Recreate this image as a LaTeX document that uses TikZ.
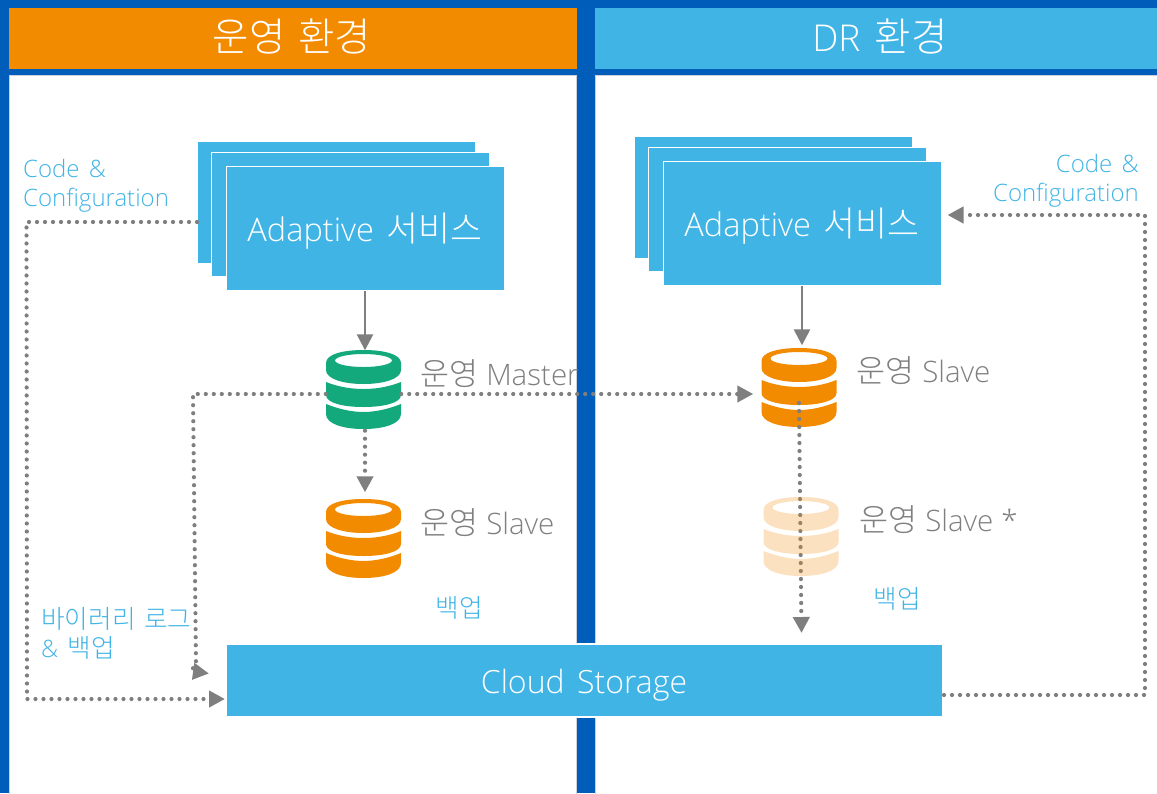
\documentclass[tikz,border=0pt]{standalone}
\usepackage{fontspec}
\setmainfont{Open Sans Light}[WordSpace=1.5]
\newfontfamily\krfont{Noto Sans CJK KR Light}[Scale=1.07,WordSpace=1.5]
\newcommand{\kr}[1]{{\krfont #1}}
\usetikzlibrary{arrows.meta}
\definecolor{bgblue}{HTML}{005DB9}
\definecolor{skyblue}{HTML}{41B4E6}
\definecolor{headorange}{HTML}{F38B00}
\definecolor{dbgreen}{HTML}{13A97D}
\definecolor{linegrey}{HTML}{7F7F7F}
\definecolor{edgegrey}{HTML}{CDD0D8}
\tikzset{
  panel/.style={fill=white,draw=edgegrey,line width=1pt,inner sep=0pt,anchor=north west},
  header/.style={fill=#1,text=white,inner sep=0pt,minimum height=61pt,font=\fontsize{35}{40}\selectfont},
  svcbox/.style={fill=skyblue,draw=white,line width=1pt,inner sep=0pt,minimum width=278pt,minimum height=124pt,text=white,font=\fontsize{32.5}{38}\selectfont},
  dbnode/.style={inner sep=0pt,minimum width=75pt,minimum height=79pt},
  dblabel/.style={text=linegrey,inner sep=0pt,anchor=west,font=\fontsize{29.5}{36}\selectfont},
  bluelabel/.style={text=skyblue,inner sep=0pt,font=\fontsize{24}{29}\selectfont},
  solidarrow/.style={draw=linegrey,line width=2.6pt,-{Triangle[length=16pt,width=16pt]}},
  dotarrow/.style={draw=linegrey,line width=4.2pt,line cap=round,dash pattern=on 0pt off 8pt,-{Triangle[length=16pt,width=16pt]}},
  pics/dbstack/.style={code={
    \fill[#1,even odd rule] (-37.5,-27) .. controls (-37.5,-36) and (-20,-40) .. (0,-40)
      .. controls (20,-40) and (37.5,-36) .. (37.5,-27) -- (37.5,-20)
      .. controls (37.5,-11) and (20,-6) .. (0,-6)
      .. controls (-20,-6) and (-37.5,-11) .. (-37.5,-20) -- cycle
      (0,-29.5) ellipse [x radius=28.5,y radius=6.5];
    \fill[#1] (-37.5,-8) .. controls (-25,-3) and (-12,-1) .. (0,-1)
      .. controls (12,-1) and (25,-3) .. (37.5,-8) -- (37.5,5)
      .. controls (37.5,13) and (20,17) .. (0,17)
      .. controls (-20,17) and (-37.5,13) .. (-37.5,5) -- cycle;
    \fill[#1] (-37.5,14) .. controls (-25,19) and (-12,22) .. (0,22)
      .. controls (12,22) and (25,19) .. (37.5,14) -- (37.5,24)
      .. controls (37.5,34) and (20,39) .. (0,39)
      .. controls (-20,39) and (-37.5,34) .. (-37.5,24) -- cycle;
  }}
}
\begin{document}
\begin{tikzpicture}[x=1pt,y=-1pt]
  \useasboundingbox (0,0) rectangle (1157,793);
  \fill[bgblue] (0,0) rectangle (1157,793);

  \node[panel,minimum width=567.5pt,minimum height=730pt] (leftpanel) at (8.5,75) {};
  \node[panel,minimum width=570pt,minimum height=730pt] (rightpanel) at (595,75) {};
  \node[header=headorange,minimum width=568pt] (lefthead) at (293,38.5) {};
  \node[header=skyblue,minimum width=562pt] (righthead) at (876,38.5) {};
  \node[text=white,inner sep=0pt,font=\fontsize{37}{40}\selectfont] (lefttitle) at (292,37) {\kr{운영 환경}};
  \node[text=white,inner sep=0pt,font=\fontsize{37}{40}\selectfont] (righttitle) at (880,37) {DR \kr{환경}};

  \node[svcbox,minimum height=122pt] (backL) at (336.5,202) {};
  \node[svcbox] (midL) at (350.5,214.5) {};
  \node[svcbox] (frontL) at (365,228) {};
  \node[svcbox,draw=none,fill=none] (frontLtext) at (365,231) {Adaptive \kr{서비스}};
  \node[svcbox,minimum height=122pt] (backR) at (773.5,197) {};
  \node[svcbox] (midR) at (787.5,209.5) {};
  \node[svcbox] (frontR) at (802,223) {};
  \node[svcbox,draw=none,fill=none] (frontRtext) at (802,226) {Adaptive \kr{서비스}};

  \node[fill=skyblue,draw=white,line width=2pt,inner sep=0pt,minimum width=717pt,minimum height=73pt] (storage) at (584.5,680.5) {};
  \node[text=white,inner sep=0pt,font=\fontsize{32}{36}\selectfont] (storagetext) at (584,685) {Cloud Storage};

  \node[dbnode] (master) at (363.5,390) {};
  \node[dbnode] (slaveL) at (363.5,539) {};
  \node[dbnode] (slaveR) at (799,388) {};
  \node[dbnode] (slaveX) at (801,537) {};
  \pic at (master) {dbstack=dbgreen};
  \pic at (slaveL) {dbstack=headorange};
  \pic at (slaveR) {dbstack=headorange};

  \node[dblabel] (masterlabel) at (420,374) {\kr{운영}\hspace{8pt}Master};
  \node[dblabel] (slaveLlabel) at (420,523) {\kr{운영}\hspace{8pt}Slave};
  \node[dblabel] (slaveRlabel) at (856,371) {\kr{운영}\hspace{8pt}Slave};
  \node[dblabel] (slaveXlabel) at (859,520) {\kr{운영}\hspace{8pt}Slave\hspace{8pt}*};

  \node[bluelabel,align=left,anchor=north west] (codeL) at (23,159) {Code \&\\Configuration};
  \node[bluelabel,align=right,anchor=north east] (codeR) at (1139,154) {Code \&\\Configuration};
  \node[bluelabel,align=left,anchor=north west] (binlog) at (41,607) {\kr{바이러리 로그}\\\& \kr{백업}};
  \node[bluelabel] (backupL) at (459.5,608) {\kr{백업}};
  \node[bluelabel] (backupR) at (897.5,599) {\kr{백업}};

  \coordinate (logtip) at (209,673.5);
  \coordinate (imagetip) at (801.5,633);

  \draw[solidarrow] (frontL.south) -- (master.north -| frontL.south);
  \draw[solidarrow] (frontR.south) -- ([yshift=3pt]slaveR.north -| frontR.south);
  \draw[dotarrow] ([yshift=-4pt]master.east) -- ([xshift=-8pt,yshift=-6pt]slaveR.west);
  \draw[dotarrow] ([yshift=-4pt]master.west) -- (193,394) -- (196,664) -- (191,671) -- (logtip);
  \draw[dotarrow] ([xshift=1.5pt,yshift=-1pt]master.south) -- ([xshift=1.5pt,yshift=7pt]slaveL.north);
  \draw[dotarrow] ([yshift=-20pt]backL.west) -- (26.5,222) -- (27,699) -- ([yshift=-18.5pt]storage.west);
  \draw[dotarrow] ([yshift=-14.5pt]storage.east) -- (1145,695) -- (1145,215) -- ([xshift=6pt,yshift=8pt]frontR.east);
  \draw[dotarrow] ([yshift=-15pt]slaveR.center) -- (imagetip);

  \pic[opacity=.25] at (slaveX) {dbstack=headorange};
\end{tikzpicture}
\end{document}
